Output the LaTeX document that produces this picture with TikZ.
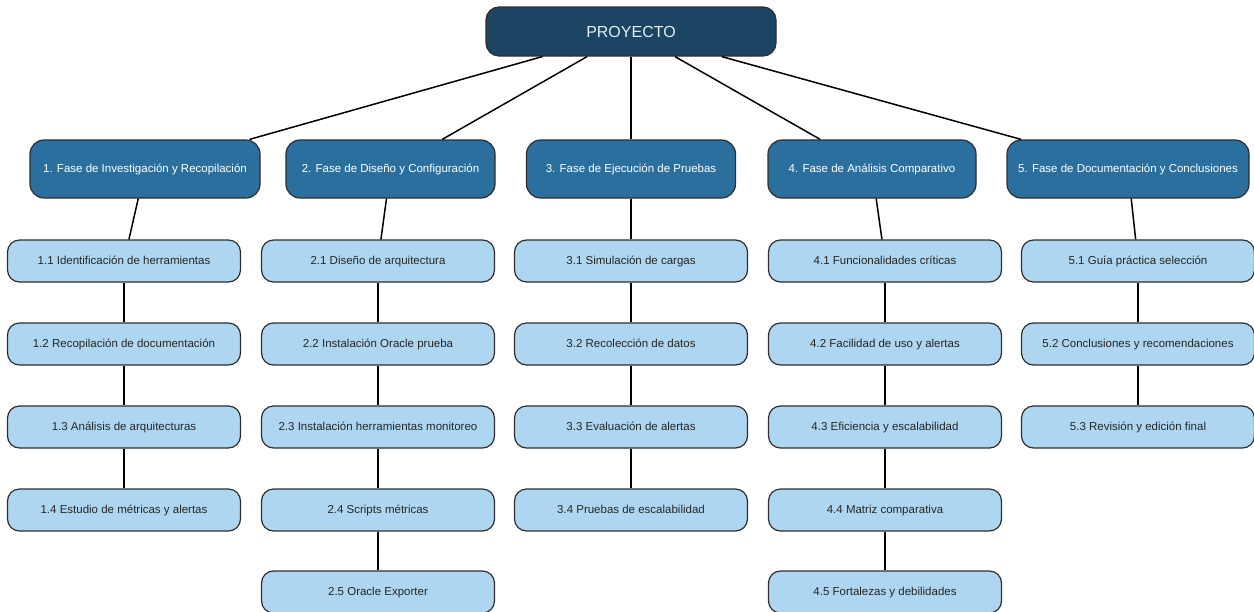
\documentclass[tikz,border=0pt]{standalone}
\usepackage{fontspec}
\setmainfont{Liberation Sans}
\definecolor{rootfill}{HTML}{1B4563}
\definecolor{phasefill}{HTML}{2B6F9F}
\definecolor{childfill}{HTML}{AED6F1}
\definecolor{edgegray}{HTML}{2E2E2E}
\definecolor{rootText}{HTML}{E6EEF5}
\tikzset{
  rootbox/.style={draw=edgegray, line width=1.2pt, fill=rootfill, rounded corners=13pt,
    minimum width=290pt, minimum height=49pt, inner sep=0pt, text=rootText,
    text height=11.5pt, text depth=0pt,
    font=\fontsize{16}{19}\selectfont},
  phasebox/.style={draw=edgegray, line width=1.2pt, fill=phasefill, rounded corners=14pt,
    minimum height=58pt, inner sep=0pt, text=white,
    text height=8.5pt, text depth=2.5pt,
    font=\fontsize{11.5}{14}\selectfont},
  childbox/.style={draw=edgegray, line width=1.2pt, fill=childfill, rounded corners=12pt,
    minimum width=233pt, minimum height=42pt, inner sep=0pt, text=black!85,
    text height=8.5pt, text depth=2.5pt,
    font=\fontsize{11.5}{14}\selectfont},
  link/.style={draw=black, line width=1.5pt}
}
\begin{document}
\begin{tikzpicture}[x=1pt,y=-1pt]
\useasboundingbox (0,0) rectangle (1254,611);
% nodes
\node[rootbox] (root) at (631,31.5) {PROYECTO};
\node[phasebox, minimum width=230pt] (p1) at (145,169) {1. Fase de Investigación y Recopilación};
\node[phasebox, minimum width=209pt] (p2) at (390.5,169) {2. Fase de Diseño y Configuración};
\node[phasebox, minimum width=209pt] (p3) at (631,169) {3. Fase de Ejecución de Pruebas};
\node[phasebox, minimum width=208pt] (p4) at (872,169) {4. Fase de Análisis Comparativo};
\node[phasebox, minimum width=242pt] (p5) at (1128,169) {5. Fase de Documentación y Conclusiones};
% column 1
\node[childbox] (c11) at (124,261) {1.1 Identificación de herramientas};
\node[childbox] (c12) at (124,344) {1.2 Recopilación de documentación};
\node[childbox] (c13) at (124,427) {1.3 Análisis de arquitecturas};
\node[childbox] (c14) at (124,510) {1.4 Estudio de métricas y alertas};
% column 2
\node[childbox] (c21) at (378,261) {2.1 Diseño de arquitectura};
\node[childbox] (c22) at (378,344) {2.2 Instalación Oracle prueba};
\node[childbox] (c23) at (378,427) {2.3 Instalación herramientas monitoreo};
\node[childbox] (c24) at (378,510) {2.4 Scripts métricas};
\node[childbox] (c25) at (378,592) {2.5 Oracle Exporter};
% column 3
\node[childbox] (c31) at (631,261) {3.1 Simulación de cargas};
\node[childbox] (c32) at (631,344) {3.2 Recolección de datos};
\node[childbox] (c33) at (631,427) {3.3 Evaluación de alertas};
\node[childbox] (c34) at (631,510) {3.4 Pruebas de escalabilidad};
% column 4
\node[childbox] (c41) at (885,261) {4.1 Funcionalidades críticas};
\node[childbox] (c42) at (885,344) {4.2 Facilidad de uso y alertas};
\node[childbox] (c43) at (885,427) {4.3 Eficiencia y escalabilidad};
\node[childbox] (c44) at (885,510) {4.4 Matriz comparativa};
\node[childbox] (c45) at (885,592) {4.5 Fortalezas y debilidades};
% column 5
\node[childbox] (c51) at (1138,261) {5.1 Guía práctica selección};
\node[childbox] (c52) at (1138,344) {5.2 Conclusiones y recomendaciones};
\node[childbox] (c53) at (1138,427) {5.3 Revisión y edición final};
% connectors
\foreach \p in {p1,p2,p3,p4,p5} \draw[link] (root) -- (\p);
\draw[link] (p1) -- (c11);
\draw[link] (p2) -- (c21);
\draw[link] (p3) -- (c31);
\draw[link] (p4) -- (c41);
\draw[link] (p5) -- (c51);
\draw[link] (c11) -- (c12); \draw[link] (c12) -- (c13); \draw[link] (c13) -- (c14);
\draw[link] (c21) -- (c22); \draw[link] (c22) -- (c23); \draw[link] (c23) -- (c24); \draw[link] (c24) -- (c25);
\draw[link] (c31) -- (c32); \draw[link] (c32) -- (c33); \draw[link] (c33) -- (c34);
\draw[link] (c41) -- (c42); \draw[link] (c42) -- (c43); \draw[link] (c43) -- (c44); \draw[link] (c44) -- (c45);
\draw[link] (c51) -- (c52); \draw[link] (c52) -- (c53);
\end{tikzpicture}
\end{document}
